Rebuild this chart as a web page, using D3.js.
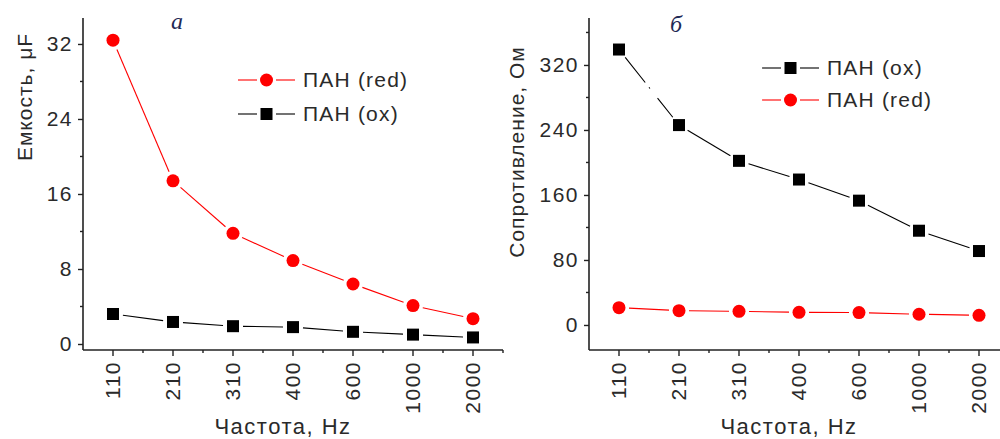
<!DOCTYPE html>
<html><head><meta charset="utf-8">
<script src="https://cdn.jsdelivr.net/npm/d3@7"></script>
<style>
html,body{margin:0;padding:0;background:#fff;}
svg{display:block;}
text{font-family:"Liberation Sans",Arial,sans-serif;fill:#2a2a2a;}
</style></head>
<body><svg id="c" width="1000" height="439"></svg>
<script>
// ---- data ----
const categories = ["110","210","310","400","600","1000","2000"];
const capRed = [32.4, 17.4, 11.8, 8.9, 6.4, 4.1, 2.7];
const capOx  = [3.2, 2.35, 1.9, 1.8, 1.3, 1.0, 0.7];
const resOx  = [339, 246, 202, 179, 153, 116, 91];
const resRed = [21.3, 17.6, 16.8, 15.6, 15.2, 13.2, 11.9];
const capTicks = [0, 8, 16, 24, 32];
const capMinor = [4, 12, 20, 28];
const resTicks = [0, 80, 160, 240, 320];
const resMinor = [40, 120, 200, 280, 360];

const svg = d3.select("#c");
const FS = 21;

function panel(opt){
  const g = svg.append("g");
  const x = d3.scaleBand().domain(categories).range([opt.x0, opt.x0 + 60*categories.length]).padding(0);
  const cx = c => x(c) + x.bandwidth()/2;
  const y = d3.scaleLinear().domain(opt.ydom).range([350, 18]);
  const axisColor = "#222";
  g.append("line").attr("x1", opt.x0).attr("x2", opt.x0).attr("y1", 18).attr("y2", 350)
    .attr("stroke", axisColor).attr("stroke-width", 1.6);
  g.append("line").attr("x1", opt.x0).attr("x2", opt.xEnd).attr("y1", 350).attr("y2", 350)
    .attr("stroke", axisColor).attr("stroke-width", 1.6);
  const ya = d3.axisLeft(y).tickValues(opt.yticks).tickSize(5).tickPadding(5);
  const yg = g.append("g").attr("transform", `translate(${opt.x0},0)`).call(ya);
  yg.select(".domain").remove();
  yg.selectAll("line").attr("stroke", axisColor).attr("stroke-width", 1.4);
  yg.selectAll("text").style("font-size", FS+"px").style("letter-spacing","1.5px")
    .attr("fill",null).attr("font-family", null);
  g.selectAll(".ymin").data(opt.yminor).join("line")
    .attr("x1", opt.x0-3).attr("x2", opt.x0).attr("y1", d=>y(d)).attr("y2", d=>y(d))
    .attr("stroke", axisColor).attr("stroke-width", 1.4);
  g.selectAll(".xt").data(categories).join("line")
    .attr("x1", d=>cx(d)).attr("x2", d=>cx(d)).attr("y1", 350).attr("y2", 356)
    .attr("stroke", axisColor).attr("stroke-width", 1.4);
  const bounds = categories.map(c => x(c)).slice(1).concat([x(categories[categories.length-1]) + x.bandwidth()]);
  g.selectAll(".xm").data(bounds).join("line")
    .attr("x1", d=>d).attr("x2", d=>d).attr("y1", 350).attr("y2", 353)
    .attr("stroke", axisColor).attr("stroke-width", 1.4);
  g.selectAll(".xl").data(categories).join("text")
    .attr("transform", d=>`translate(${cx(d)+7},361) rotate(-90)`)
    .attr("text-anchor","end").style("font-size", FS+"px").style("letter-spacing","1.5px").text(d=>d);
  g.append("text").attr("x", opt.x0 + 200).attr("y", 434).attr("text-anchor","middle")
    .style("font-size", "22px").style("letter-spacing","1.5px").text("Частота, Hz");
  g.append("text").attr("transform", `translate(${opt.ytx},${opt.yty}) rotate(-90)`)
    .attr("text-anchor","middle").style("font-size","21px").style("letter-spacing","1px").text(opt.ytitle);
  g.append("text").attr("x", opt.lx).attr("y", opt.ly).attr("text-anchor","middle")
    .style("font-family","Liberation Serif, serif")
    .style("font-style","italic").style("font-size","24px").style("fill","#1f2a55").text(opt.letter);

  opt.series.forEach(s=>{
    const pts = s.values.map((v,i)=>[cx(categories[i]), y(v)]);
    const gap = 10;
    for(let i=0;i<pts.length-1;i++){
      const [x1,y1]=pts[i],[x2,y2]=pts[i+1];
      const L = Math.hypot(x2-x1,y2-y1);
      if(L <= 2*gap) continue;
      const ux=(x2-x1)/L, uy=(y2-y1)/L;
      const seg = g.append("line")
        .attr("x1", x1+ux*gap).attr("y1", y1+uy*gap)
        .attr("x2", x2-ux*gap).attr("y2", y2-uy*gap)
        .attr("stroke", s.color).attr("stroke-width", 1.1);
      if(s.brokenFirst && i===0){
        const l = L-2*gap;
        seg.attr("stroke-dasharray", `${l*0.42} ${l*0.08} 1.5 ${l*0.16} ${l}`);
      }
    }
    drawMarker(g, s.shape, pts, s.color);
  });
  opt.series.forEach((s,i)=>{
    const ly = opt.legY[i];
    g.append("line").attr("x1", opt.legX).attr("x2", opt.legX+19).attr("y1", ly).attr("y2", ly)
      .attr("stroke", s.color).attr("stroke-width",1.1);
    g.append("line").attr("x1", opt.legX+38).attr("x2", opt.legX+57).attr("y1", ly).attr("y2", ly)
      .attr("stroke", s.color).attr("stroke-width",1.1);
    drawMarker(g, s.shape, [[opt.legX+28.5, ly]], s.color);
    g.append("text").attr("x", opt.legX+65).attr("y", ly+7).style("font-size","21px")
      .style("letter-spacing","1.2px").text(s.name);
  });
}

function drawMarker(g, shape, pts, color){
  if(shape==="circle"){
    g.selectAll(null).data(pts).join("circle")
      .attr("cx", d=>d[0]).attr("cy", d=>d[1]).attr("r", 6.5).attr("fill", color);
  } else {
    g.selectAll(null).data(pts).join("rect")
      .attr("x", d=>d[0]-6).attr("y", d=>d[1]-6).attr("width", 12).attr("height", 12).attr("fill", color);
  }
}

panel({x0:83, xEnd:503, ydom:[-0.64, 34.77], yticks:capTicks, yminor:capMinor,
  ytitle:"Емкость, μF", ytx:32, yty:97, letter:"а", lx:177, ly:29,
  legX:238, legY:[80,114],
  series:[{name:"ПАН (red)", values:capRed, color:"#ff0000", shape:"circle"},
          {name:"ПАН (ox)", values:capOx, color:"#000", shape:"square"}]});
panel({x0:589, xEnd:1000, ydom:[-30.8, 377.8], yticks:resTicks, yminor:resMinor,
  ytitle:"Сопротивление, Ом", ytx:524, yty:152, letter:"б", lx:676, ly:32,
  legX:762, legY:[68,100],
  series:[{name:"ПАН (ox)", values:resOx, color:"#000", shape:"square", brokenFirst:true},
          {name:"ПАН (red)", values:resRed, color:"#ff0000", shape:"circle"}]});
</script></body></html>
